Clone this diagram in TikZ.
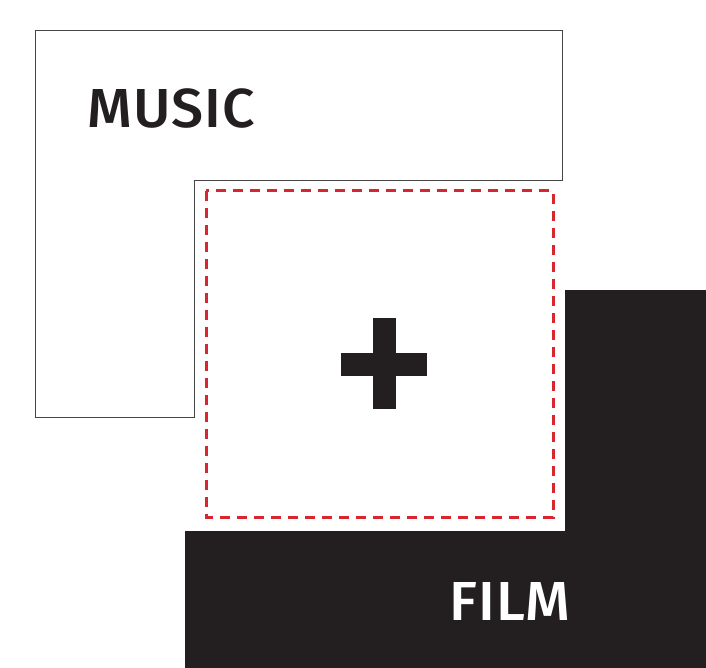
\documentclass[tikz,border=0pt]{standalone}
\usepackage{fontspec}
\setmainfont{Fira Sans}[UprightFont=* Medium, FakeStretch=1.04, LetterSpace=2]
\usepackage{xcolor}
\usetikzlibrary{positioning}
\definecolor{myblack}{RGB}{35,31,32}
\definecolor{myred}{RGB}{218,37,47}
\definecolor{mygray}{RGB}{70,70,70}

\begin{document}
\begin{tikzpicture}[x=1pt, y=-1pt]
    \tikzstyle{lbl}=[inner sep=0pt, anchor=base west, font=\fontsize{55}{55}\selectfont]
    \useasboundingbox (0,0) rectangle (706,668);
    % music outline
    \draw[mygray, line width=0.8pt] (35,30) -- (562,30) -- (562,180) -- (194,180) -- (194,417) -- (35,417) -- cycle;
    % film block
    \fill[myblack] (565,290) -- (706,290) -- (706,668) -- (185,668) -- (185,531) -- (565,531) -- cycle;
    % overlap
    \draw[myred, line width=3pt, dash pattern=on 10pt off 7pt] (206,191) rectangle (553,517);
    % plus
    \fill[myblack] (373,318) rectangle (396,409);
    \fill[myblack] (341,353) rectangle (427,376);
    \node[lbl, text=myblack] (music) at (87,128) {MUSIC};
    \node[lbl, text=white] (film) at (449,620) {FILM};
  \end{tikzpicture}
\end{document}
